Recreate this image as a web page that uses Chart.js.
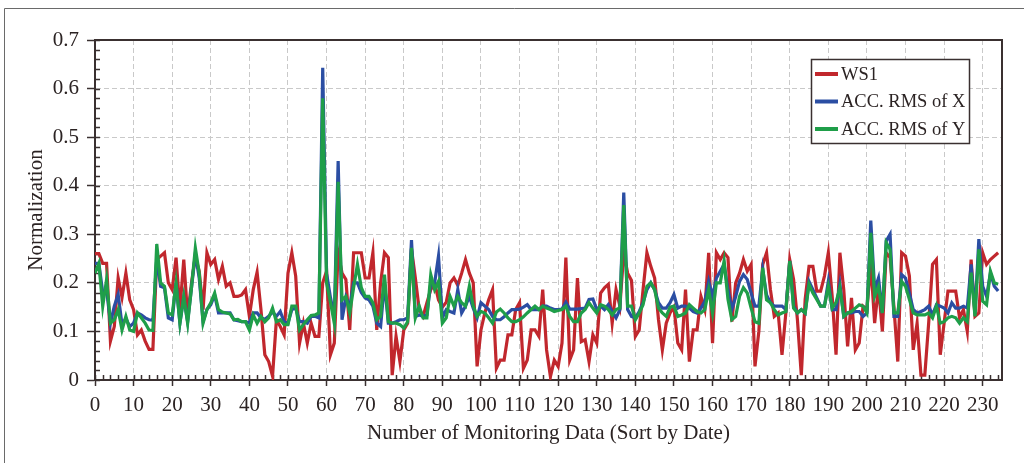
<!DOCTYPE html>
<html>
<head>
<meta charset="utf-8">
<script src="https://cdn.jsdelivr.net/npm/chart.js@4.4.1/dist/chart.umd.min.js"></script>
<style>
  html, body { margin: 0; padding: 0; background: #fff; }
  #wrap { position: relative; width: 1024px; height: 463px; }
</style>
</head>
<body>
<div id="wrap"><canvas id="myChart" width="1024" height="463"></canvas></div>
<script>
// normalised monitoring series, one value per record (record no. = array index)
const ws1 = [
  0.26, 0.26, 0.24, 0.24, 0.08, 0.11, 0.21, 0.17, 0.22, 0.165,
  0.145, 0.093, 0.103, 0.08, 0.063, 0.063, 0.248, 0.255, 0.262, 0.2,
  0.186, 0.252, 0.145, 0.248, 0.131, 0.2, 0.255, 0.224, 0.145, 0.262,
  0.238, 0.248, 0.207, 0.234, 0.193, 0.2, 0.172, 0.172, 0.175, 0.186,
  0.131, 0.186, 0.222, 0.145, 0.052, 0.038, 0.008, 0.124, 0.11, 0.093,
  0.22, 0.262, 0.214, 0.076, 0.117, 0.076, 0.117, 0.09, 0.09, 0.2,
  0.224, 0.052, 0.076, 0.262, 0.22, 0.207, 0.103, 0.262, 0.262, 0.262,
  0.21, 0.21, 0.262, 0.103, 0.2, 0.262, 0.252, 0.01, 0.09, 0.038,
  0.103, 0.117, 0.27, 0.21, 0.145, 0.131, 0.159, 0.186, 0.2, 0.165,
  0.15, 0.16, 0.2, 0.21, 0.195, 0.22, 0.248, 0.22, 0.2, 0.028,
  0.103, 0.138, 0.165, 0.186, 0.024, 0.041, 0.041, 0.093, 0.093, 0.145,
  0.159, 0.024, 0.041, 0.103, 0.103, 0.09, 0.186, 0.062, 0.007, 0.041,
  0.028, 0.076, 0.252, 0.041, 0.062, 0.21, 0.079, 0.083, 0.038, 0.093,
  0.076, 0.179, 0.19, 0.197, 0.117, 0.186, 0.152, 0.262, 0.22, 0.205,
  0.09, 0.103, 0.186, 0.262, 0.234, 0.21, 0.124, 0.062, 0.117, 0.138,
  0.15, 0.076, 0.062, 0.186, 0.038, 0.103, 0.103, 0.172, 0.145, 0.262,
  0.076, 0.262, 0.248, 0.262, 0.252, 0.12, 0.2, 0.22, 0.248, 0.224,
  0.238, 0.028, 0.1, 0.238, 0.262, 0.186, 0.131, 0.138, 0.052, 0.138,
  0.248, 0.207, 0.124, 0.01, 0.166, 0.234, 0.234, 0.183, 0.183, 0.214,
  0.262, 0.172, 0.052, 0.262, 0.186, 0.069, 0.169, 0.062, 0.076, 0.152,
  0.145, 0.24, 0.117, 0.193, 0.1, 0.262, 0.252, 0.15, 0.038, 0.262,
  0.255, 0.214, 0.062, 0.117, 0.01, 0.01, 0.117, 0.238, 0.248, 0.052,
  0.117, 0.183, 0.183, 0.183, 0.128, 0.145, 0.1, 0.248, 0.131, 0.138,
  0.262, 0.238, 0.248, 0.255, 0.262
];
const accX = [
  0.24, 0.24, 0.18, 0.186, 0.117, 0.152, 0.176, 0.114, 0.127, 0.11,
  0.117, 0.138, 0.134, 0.128, 0.124, 0.123, 0.25, 0.193, 0.19, 0.128,
  0.124, 0.2, 0.117, 0.17, 0.12, 0.19, 0.26, 0.21, 0.12, 0.145,
  0.155, 0.175, 0.138, 0.138, 0.138, 0.138, 0.124, 0.122, 0.12, 0.12,
  0.117, 0.138, 0.138, 0.128, 0.125, 0.131, 0.14, 0.131, 0.141, 0.12,
  0.117, 0.145, 0.148, 0.12, 0.12, 0.117, 0.131, 0.131, 0.128, 0.643,
  0.22, 0.17, 0.13, 0.451, 0.124, 0.17, 0.15, 0.2, 0.2, 0.18,
  0.169, 0.165, 0.152, 0.117, 0.11, 0.2, 0.117, 0.117, 0.12, 0.124,
  0.124, 0.128, 0.288, 0.131, 0.134, 0.131, 0.134, 0.2, 0.2, 0.255,
  0.128, 0.145, 0.141, 0.138, 0.186, 0.138, 0.152, 0.172, 0.148, 0.128,
  0.159, 0.152, 0.145, 0.131, 0.124, 0.124, 0.13, 0.138, 0.145, 0.145,
  0.146, 0.15, 0.155, 0.145, 0.145, 0.145, 0.152, 0.152, 0.148, 0.145,
  0.145, 0.146, 0.16, 0.146, 0.146, 0.146, 0.147, 0.148, 0.166, 0.167,
  0.145, 0.152, 0.145, 0.155, 0.141, 0.128, 0.145, 0.386, 0.145, 0.131,
  0.128, 0.141, 0.159, 0.186, 0.2, 0.186, 0.159, 0.148, 0.148, 0.159,
  0.176, 0.148, 0.152, 0.152, 0.148, 0.141, 0.138, 0.148, 0.162, 0.203,
  0.172, 0.21, 0.224, 0.238, 0.186, 0.145, 0.172, 0.203, 0.217, 0.207,
  0.179, 0.152, 0.152, 0.228, 0.175, 0.159, 0.152, 0.152, 0.152, 0.145,
  0.245, 0.152, 0.138, 0.145, 0.138, 0.203, 0.186, 0.169, 0.152, 0.152,
  0.203, 0.145, 0.145, 0.197, 0.131, 0.138, 0.138, 0.141, 0.141, 0.131,
  0.138, 0.328, 0.186, 0.21, 0.138, 0.286, 0.3, 0.131, 0.131, 0.217,
  0.21, 0.179, 0.145, 0.138, 0.141, 0.145, 0.152, 0.134, 0.155, 0.152,
  0.148, 0.138, 0.159, 0.148, 0.148, 0.152, 0.148, 0.238, 0.138, 0.29,
  0.193, 0.172, 0.22, 0.193, 0.183
];
const accY = [
  0.22, 0.24, 0.152, 0.207, 0.117, 0.124, 0.145, 0.103, 0.131, 0.103,
  0.1, 0.138, 0.128, 0.117, 0.103, 0.102, 0.28, 0.2, 0.193, 0.138,
  0.134, 0.2, 0.117, 0.172, 0.117, 0.19, 0.272, 0.22, 0.117, 0.145,
  0.159, 0.179, 0.145, 0.14, 0.138, 0.136, 0.124, 0.125, 0.12, 0.12,
  0.103, 0.134, 0.117, 0.131, 0.12, 0.128, 0.148, 0.12, 0.124, 0.114,
  0.114, 0.152, 0.152, 0.103, 0.114, 0.124, 0.133, 0.134, 0.138, 0.58,
  0.2, 0.16, 0.117, 0.408, 0.165, 0.172, 0.138, 0.19, 0.238, 0.19,
  0.172, 0.172, 0.159, 0.124, 0.131, 0.217, 0.12, 0.117, 0.117, 0.114,
  0.107, 0.12, 0.272, 0.128, 0.152, 0.128, 0.128, 0.217, 0.186, 0.203,
  0.117, 0.128, 0.172, 0.152, 0.172, 0.159, 0.152, 0.193, 0.152, 0.131,
  0.141, 0.138, 0.128, 0.117, 0.14, 0.146, 0.138, 0.128, 0.12, 0.12,
  0.124, 0.13, 0.138, 0.145, 0.152, 0.145, 0.152, 0.148, 0.145, 0.141,
  0.143, 0.145, 0.152, 0.131, 0.12, 0.12, 0.138, 0.145, 0.159, 0.148,
  0.138, 0.155, 0.152, 0.145, 0.134, 0.145, 0.148, 0.36, 0.152, 0.152,
  0.124, 0.138, 0.155, 0.193, 0.2, 0.186, 0.148, 0.138, 0.131, 0.15,
  0.152, 0.131, 0.134, 0.138, 0.155, 0.148, 0.141, 0.138, 0.145, 0.186,
  0.138, 0.2, 0.2, 0.245, 0.166, 0.124, 0.131, 0.172, 0.19, 0.179,
  0.148, 0.12, 0.117, 0.231, 0.165, 0.159, 0.145, 0.134, 0.138, 0.141,
  0.245, 0.148, 0.138, 0.145, 0.138, 0.197, 0.179, 0.166, 0.152, 0.152,
  0.193, 0.148, 0.16, 0.19, 0.131, 0.138, 0.141, 0.148, 0.155, 0.152,
  0.138, 0.303, 0.172, 0.193, 0.138, 0.283, 0.269, 0.138, 0.138, 0.203,
  0.193, 0.166, 0.138, 0.134, 0.134, 0.134, 0.138, 0.128, 0.152, 0.117,
  0.12, 0.128, 0.131, 0.128, 0.117, 0.128, 0.12, 0.221, 0.131, 0.269,
  0.162, 0.155, 0.224, 0.2, 0.197
];

const seriesNames = ['WS1', 'ACC. RMS of X', 'ACC. RMS of Y'];
const xTicks = [0, 10, 20, 30, 40, 50, 60, 70, 80, 90, 100, 110, 120, 130, 140, 150, 160, 170, 180, 190, 200, 210, 220, 230];
const yTicks = [0, 0.1, 0.2, 0.3, 0.4, 0.5, 0.6, 0.7];
const yTickLabels = ['0', '0.1', '0.2', '0.3', '0.4', '0.5', '0.6', '0.7'];

const FONT = '"Liberation Serif", "Times New Roman", serif';
const INK = '#3a3030';
const TXT = '#2b2323';
const GRID = '#c9c9c9';

const toPoints = arr => arr.map((v, i) => ({ x: i, y: v }));

// small inward ticks every 2 records / every 0.02, plus the closed frame
const minorTicks = {
  id: 'minorTicks',
  beforeDatasetsDraw(chart) {
    const { ctx, chartArea: a, scales: { x, y } } = chart;
    ctx.save();
    ctx.strokeStyle = INK;
    ctx.lineWidth = 1.5;
    ctx.beginPath();
    for (let v = 0; v <= x.max; v += 2) {
      const px = Math.round(x.getPixelForValue(v)) + 0.5;
      ctx.moveTo(px, a.bottom);
      ctx.lineTo(px, a.bottom - 5);
    }
    for (let k = 0; k <= 35; k++) {
      const py = Math.round(y.getPixelForValue(k * 0.02)) + 0.5;
      ctx.moveTo(a.left, py);
      ctx.lineTo(a.left + 5, py);
    }
    ctx.stroke();
    ctx.restore();
  },
  afterDraw(chart) {
    const { ctx, chartArea: a } = chart;
    ctx.save();
    ctx.strokeStyle = INK;
    ctx.lineWidth = 2;
    ctx.beginPath();
    ctx.moveTo(a.left, a.top);
    ctx.lineTo(a.right, a.top);
    ctx.lineTo(a.right, a.bottom);
    ctx.stroke();
    // outer figure border
    ctx.strokeStyle = '#6a6a6a';
    ctx.lineWidth = 1;
    ctx.beginPath();
    ctx.moveTo(4.5, 463);
    ctx.lineTo(4.5, 8.5);
    ctx.lineTo(1024, 8.5);
    ctx.stroke();
    ctx.restore();
  }
};

// boxed legend in the upper right of the plot
const boxLegend = {
  id: 'boxLegend',
  afterDraw(chart) {
    const { ctx } = chart;
    const bx = 811, by = 59, bw = 158, bh = 84;
    ctx.save();
    ctx.fillStyle = '#fff';
    ctx.fillRect(bx, by, bw, bh);
    ctx.strokeStyle = INK;
    ctx.lineWidth = 1.5;
    ctx.strokeRect(bx + 0.5, by + 0.5, bw, bh);
    ctx.font = '18.5px ' + FONT;
    ctx.textBaseline = 'middle';
    ctx.fillStyle = TXT;
    chart.data.datasets.forEach((ds, i) => {
      const cy = by + 15 + i * 27.5;
      ctx.strokeStyle = ds.borderColor;
      ctx.lineWidth = 4;
      ctx.beginPath();
      ctx.moveTo(815, cy);
      ctx.lineTo(838, cy);
      ctx.stroke();
      ctx.fillText(ds.label, 841, cy + 1);
    });
    ctx.restore();
  }
};

const ctx = document.getElementById('myChart');
const myChart = new Chart(ctx, {
  type: 'line',
  data: {
    datasets: [
      { label: seriesNames[0], data: toPoints(ws1), borderColor: '#c1272d', order: 3 },
      { label: seriesNames[1], data: toPoints(accX), borderColor: '#2b4ea3', order: 2 },
      { label: seriesNames[2], data: toPoints(accY), borderColor: '#1f9e49', order: 1 }
    ]
  },
  options: {
    responsive: false,
    animation: false,
    devicePixelRatio: 1,
    layout: { padding: { left: 0, right: 22, top: 40, bottom: 0 } },
    elements: {
      line: { borderWidth: 3.2, tension: 0, fill: false },
      point: { radius: 0, hoverRadius: 0 }
    },
    plugins: {
      legend: { display: false },
      tooltip: { enabled: false }
    },
    scales: {
      x: {
        type: 'linear',
        min: 0,
        max: 235,
        afterBuildTicks: s => { s.ticks = xTicks.map(v => ({ value: v })); },
        afterFit: s => { s.height = 83; },
        grid: { color: GRID, lineWidth: 1, tickLength: 6, tickColor: INK, tickWidth: 1.5, tickBorderDash: [] },
        border: { color: INK, width: 2, dash: [5, 3] },
        ticks: { color: TXT, font: { family: FONT, size: 21 }, padding: 7, maxRotation: 0, autoSkip: false },
        title: {
          display: true,
          text: 'Number of Monitoring Data (Sort by Date)',
          color: TXT,
          font: { family: FONT, size: 21 },
          padding: { top: 4, bottom: 17 }
        }
      },
      y: {
        min: 0,
        max: 0.7,
        afterBuildTicks: s => { s.ticks = yTicks.map(v => ({ value: v })); },
        afterFit: s => { s.width = 95; },
        grid: { color: GRID, lineWidth: 1, tickLength: 8, tickColor: INK, tickWidth: 1.5, tickBorderDash: [] },
        border: { color: INK, width: 2, dash: [5, 3] },
        ticks: {
          color: TXT,
          font: { family: FONT, size: 21 },
          padding: 8,
          callback: (v, i) => yTickLabels[i]
        },
        title: {
          display: true,
          text: 'Normalization',
          color: TXT,
          font: { family: FONT, size: 21 },
          padding: { top: 24, bottom: 0 }
        }
      }
    }
  },
  plugins: [minorTicks, boxLegend]
});
</script>
</body>
</html>
